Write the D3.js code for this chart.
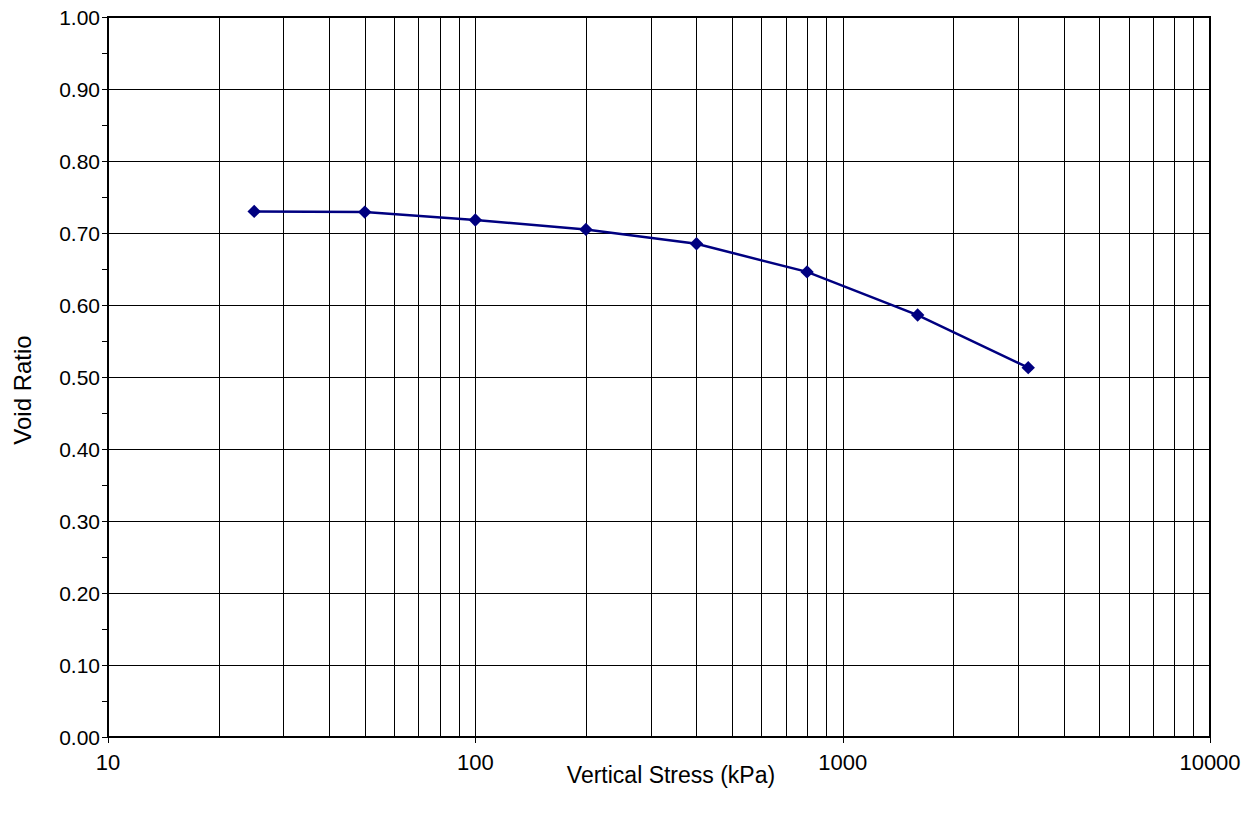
<!DOCTYPE html>
<html>
<head>
<meta charset="utf-8">
<script src="https://cdn.jsdelivr.net/npm/d3@7"></script>
<style>
  body { margin: 0; background: #fff; }
  text { font-family: Arial, "Liberation Sans", sans-serif; fill: #000; }
</style>
</head>
<body>
<script>
// consolidation test: stress (kPa) vs void ratio
var stress = [25, 50, 100, 200, 400, 800, 1600, 3200];
var voidRatio = [0.730, 0.729, 0.718, 0.705, 0.685, 0.646, 0.586, 0.513];
var xTicks = [10, 100, 1000, 10000];
var yTicks = [0, 0.1, 0.2, 0.3, 0.4, 0.5, 0.6, 0.7, 0.8, 0.9, 1.0];

var W = 1257, H = 818;
var mLeft = 108, mRight = 1210, mTop = 17, mBottom = 737;

var svg = d3.select("body").append("svg")
  .attr("width", W).attr("height", H);

var x = d3.scaleLog().domain([10, 10000]).range([mLeft, mRight]);
var y = d3.scaleLinear().domain([0, 1]).range([mBottom, mTop]);

// vertical grid at every minor log value
var minors = [];
for (var d = 10; d < 10000; d *= 10) {
  for (var k = 1; k <= 10; k++) minors.push(d * k);
}
svg.append("g").selectAll("line").data(minors.filter(function(v){ return v > 10 && v < 10000; }))
  .enter().append("line")
  .attr("x1", function(v){ return Math.round(x(v)) + 0.5; })
  .attr("x2", function(v){ return Math.round(x(v)) + 0.5; })
  .attr("y1", mTop).attr("y2", mBottom)
  .attr("stroke", "#000").attr("stroke-width", 1);

// horizontal grid
svg.append("g").selectAll("line").data(yTicks.slice(1, -1))
  .enter().append("line")
  .attr("x1", mLeft).attr("x2", mRight)
  .attr("y1", function(v){ return Math.round(y(v)) + 0.5; })
  .attr("y2", function(v){ return Math.round(y(v)) + 0.5; })
  .attr("stroke", "#000").attr("stroke-width", 1);

// y ticks: major and minor
var yMinor = d3.range(0.05, 1, 0.1);
svg.append("g").selectAll("line").data(yTicks.concat(yMinor))
  .enter().append("line")
  .attr("x1", mLeft - 6).attr("x2", mLeft)
  .attr("y1", function(v){ return Math.round(y(v)) + 0.5; })
  .attr("y2", function(v){ return Math.round(y(v)) + 0.5; })
  .attr("stroke", "#000");

svg.append("g").selectAll("text").data(yTicks)
  .enter().append("text")
  .attr("x", mLeft - 8)
  .attr("y", function(v){ return y(v); })
  .attr("dy", "0.36em")
  .attr("text-anchor", "end")
  .attr("font-size", 21)
  .text(d3.format(".2f"));

// x ticks
svg.append("g").selectAll("line").data(xTicks)
  .enter().append("line")
  .attr("x1", function(v){ return Math.round(x(v)) + 0.5; })
  .attr("x2", function(v){ return Math.round(x(v)) + 0.5; })
  .attr("y1", mBottom).attr("y2", mBottom + 6)
  .attr("stroke", "#000");

svg.append("g").selectAll("text").data(xTicks)
  .enter().append("text")
  .attr("x", function(v){ return x(v); })
  .attr("y", 770)
  .attr("text-anchor", "middle")
  .attr("font-size", 22)
  .text(function(v){ return v; });

// plot frame
svg.append("rect")
  .attr("x", mLeft).attr("y", mTop)
  .attr("width", mRight - mLeft).attr("height", mBottom - mTop)
  .attr("fill", "none").attr("stroke", "#000").attr("stroke-width", 2);

// axis titles
svg.append("text")
  .attr("x", 671).attr("y", 783)
  .attr("text-anchor", "middle").attr("font-size", 23)
  .text("Vertical Stress (kPa)");

svg.append("text")
  .attr("transform", "translate(31,390) rotate(-90)")
  .attr("text-anchor", "middle").attr("font-size", 24)
  .text("Void Ratio");

// data line and markers
var pts = stress.map(function(s, i){ return [s, voidRatio[i]]; });
var line = d3.line().x(function(p){ return x(p[0]); }).y(function(p){ return y(p[1]); });

svg.append("path").datum(pts)
  .attr("d", line)
  .attr("fill", "none").attr("stroke", "#000080").attr("stroke-width", 2.5);

svg.append("g").selectAll("path").data(pts)
  .enter().append("path")
  .attr("d", d3.symbol().type(d3.symbolDiamond2).size(115))
  .attr("transform", function(p){ return "translate(" + x(p[0]) + "," + y(p[1]) + ")"; })
  .attr("fill", "#000080");
</script>
</body>
</html>
